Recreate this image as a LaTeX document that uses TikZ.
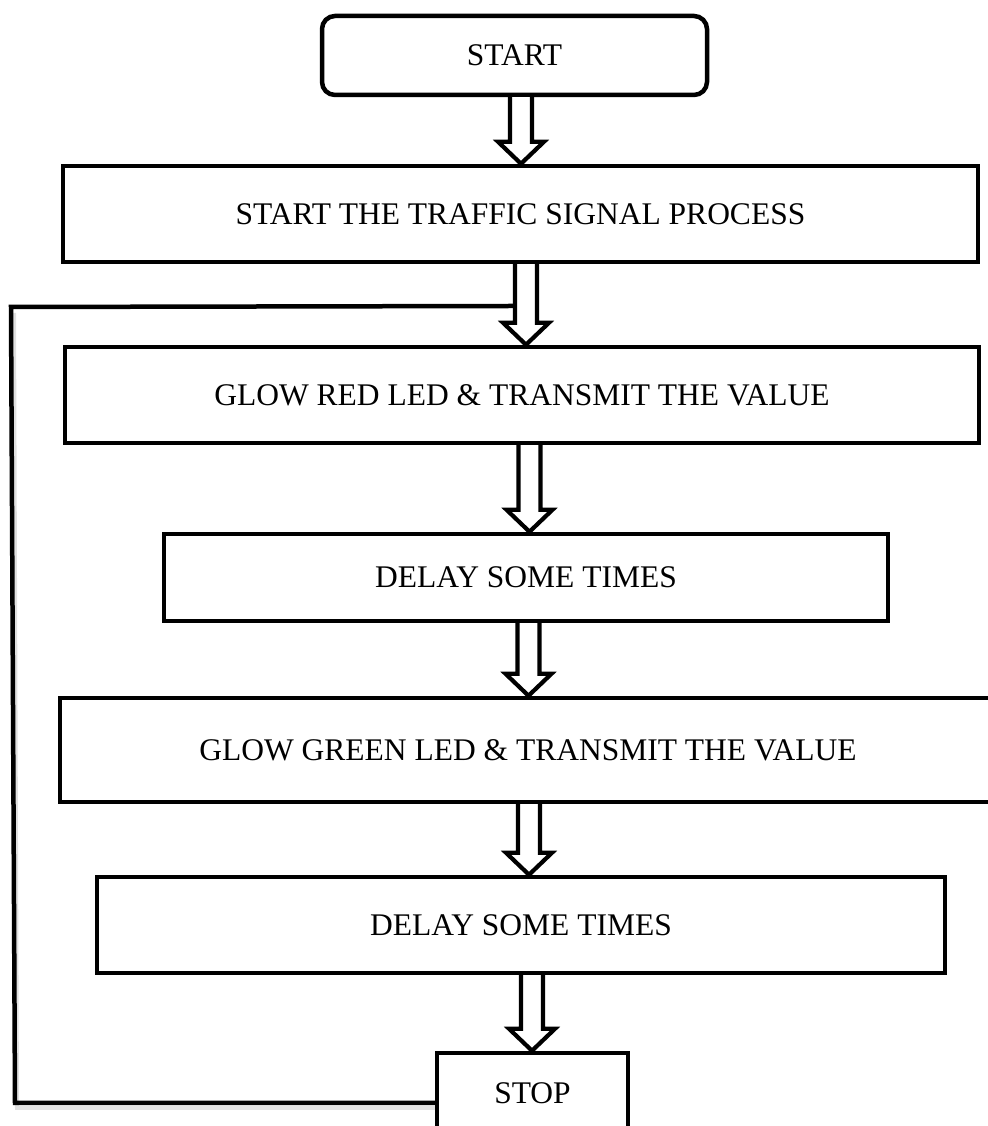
\documentclass[tikz,border=0pt]{standalone}
\usepackage{fontspec}
\setmainfont{Liberation Serif}
\usetikzlibrary{calc}

\tikzset{
  box/.style={draw=black, line width=4.5pt, rectangle, inner sep=0pt,
              fill=white, font=\fontsize{31.5}{38}\selectfont},
  startbox/.style={box, rounded corners=13pt},
  blockline/.style={draw=black, line width=4.2pt, line join=miter, fill=white},
  loopline/.style={draw=black, line width=4.5pt, line join=miter},
  loopshadow/.style={draw=black!12, line width=4pt, line join=miter},
}

% hollow block arrow: #1 source node, #2 target node, #3 x of the shaft axis
\newcommand\blockarrow[3]{%
  \draw[blockline] let \p1=(#1.south), \p2=(#2.north) in
    (#3-11,\y1) -- (#3-11,\y2+22) -- (#3-23,\y2+22) -- (#3,\y2)
    -- (#3+23,\y2+22) -- (#3+11,\y2+22) -- (#3+11,\y1);}

\begin{document}
\begin{tikzpicture}[x=1pt,y=1pt]
  \useasboundingbox (0,0) rectangle (987,1126);

  % soft shadow under the return path, kept behind the boxes
  \coordinate (loopbl)   at (15,23);
  \coordinate (looptl)   at (11,819);
  \draw[loopshadow] (437,18) -- ($(loopbl)+(2,-5)$) -- ($(looptl)+(3,-6)$);

  % process boxes
  \node[startbox, minimum width=385pt, minimum height=79pt] (start) at (514.5,1070.5) {START};
  \node[box, minimum width=915pt, minimum height=96pt] (init)   at (520.5,912) {START THE TRAFFIC SIGNAL PROCESS};
  \node[box, minimum width=914pt, minimum height=96pt] (red)    at (522,731)   {GLOW RED LED \& TRANSMIT THE VALUE};
  \node[box, minimum width=724pt, minimum height=87pt] (delayA) at (526,548.5) {DELAY SOME TIMES};
  \node[box, minimum width=936pt, minimum height=104pt] (green) at (528,376)   {GLOW GREEN LED \& TRANSMIT THE VALUE};
  \node[box, minimum width=848pt, minimum height=96pt] (delayB) at (521,201)   {DELAY SOME TIMES};
  \node[box, minimum width=191pt, minimum height=80pt] (stop)   at (532.5,33)  {STOP};

  % return path from STOP back into the loop
  \coordinate (loopout)  at ($(stop.west)+(0,-10)$);
  \coordinate (loopjoin) at (515,820);
  \draw[loopline] (loopout) -- (loopbl) -- (looptl) -- (loopjoin);

  % flow arrows
  \blockarrow{start}{init}{521}
  \blockarrow{init}{red}{526}
  \blockarrow{red}{delayA}{529.5}
  \blockarrow{delayA}{green}{528.5}
  \blockarrow{green}{delayB}{529}
  \blockarrow{delayB}{stop}{532}
\end{tikzpicture}
\end{document}
